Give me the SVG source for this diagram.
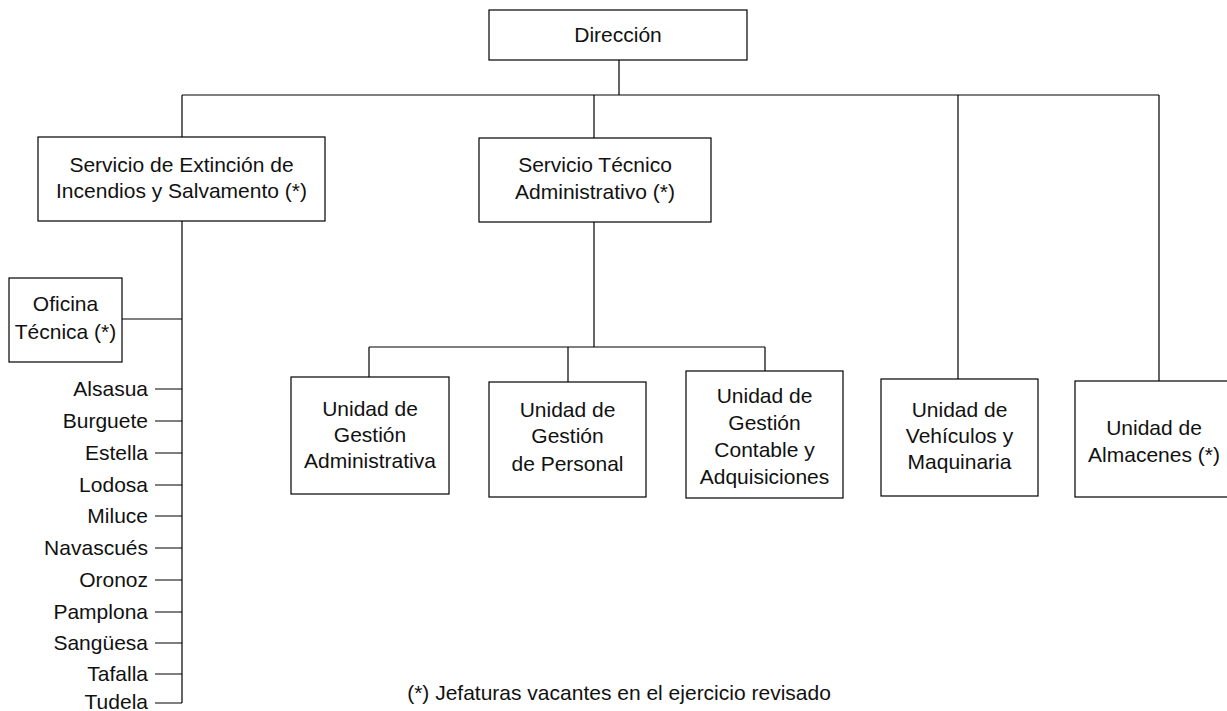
<svg xmlns="http://www.w3.org/2000/svg" width="1227" height="711" viewBox="0 0 1227 711">
<style>
.box{fill:#fff;stroke:#000;stroke-width:1.2}
.ln{stroke:#000;stroke-width:1.2;fill:none}
text{font-family:"Liberation Sans",Arial,sans-serif;font-size:21px;fill:#111}
.c{text-anchor:middle}
.r{text-anchor:end}
</style>
<rect width="1227" height="711" fill="#fff"/>
<g id="connectors">
<path class="ln" d="M619 60V95M182 95H1159M182 95V137M594 95V138M958 95V379M1159 95V381"/>
<path class="ln" d="M182 221V703M122 319H182"/>
<path class="ln" d="M155 389H182M155 421H182M155 453H182M155 485H182M155 516H182M155 548H182M155 580H182M155 612H182M155 643H182M155 674H182M155 703H182"/>
<path class="ln" d="M594 222V347M369 347H765M369 347V377M568 347V382M765 347V371"/>
</g>
<g id="direccion"><rect class="box" x="489" y="10" width="258" height="50"/><text class="c" x="618" y="42">Dirección</text></g>
<g id="seis"><rect class="box" x="38" y="137" width="287" height="84"/><text class="c" x="181.5" y="172">Servicio de Extinción de</text><text class="c" x="181.5" y="198">Incendios y Salvamento (*)</text></g>
<g id="sta"><rect class="box" x="479" y="138" width="232" height="84"/><text class="c" x="595" y="172">Servicio Técnico</text><text class="c" x="595" y="199">Administrativo (*)</text></g>
<g id="oficina"><rect class="box" x="9" y="278" width="113" height="84"/><text class="c" x="65.5" y="311">Oficina</text><text class="c" x="65.5" y="339">Técnica (*)</text></g>
<g id="parques">
<text class="r" x="148" y="396">Alsasua</text>
<text class="r" x="148" y="428">Burguete</text>
<text class="r" x="148" y="460">Estella</text>
<text class="r" x="148" y="492">Lodosa</text>
<text class="r" x="148" y="523">Miluce</text>
<text class="r" x="148" y="555">Navascués</text>
<text class="r" x="148" y="587">Oronoz</text>
<text class="r" x="148" y="619">Pamplona</text>
<text class="r" x="148" y="650">Sangüesa</text>
<text class="r" x="148" y="681">Tafalla</text>
<text class="r" x="148" y="709">Tudela</text>
</g>
<g id="ugadm"><rect class="box" x="291" y="377" width="158" height="117"/><text class="c" x="370" y="416">Unidad de</text><text class="c" x="370" y="442">Gestión</text><text class="c" x="370" y="468">Administrativa</text></g>
<g id="ugper"><rect class="box" x="489" y="382" width="157" height="115"/><text class="c" x="567.5" y="417">Unidad de</text><text class="c" x="567.5" y="443">Gestión</text><text class="c" x="567.5" y="471">de Personal</text></g>
<g id="ugcon"><rect class="box" x="686" y="371" width="157" height="127"/><text class="c" x="764.5" y="403">Unidad de</text><text class="c" x="764.5" y="430">Gestión</text><text class="c" x="764.5" y="457">Contable y</text><text class="c" x="764.5" y="484">Adquisiciones</text></g>
<g id="uveh"><rect class="box" x="881" y="379" width="157" height="117"/><text class="c" x="959.5" y="417">Unidad de</text><text class="c" x="959.5" y="443">Vehículos y</text><text class="c" x="959.5" y="469">Maquinaria</text></g>
<g id="ualm"><rect class="box" x="1075" y="381" width="160" height="116"/><text class="c" x="1154" y="435">Unidad de</text><text class="c" x="1154" y="462">Almacenes (*)</text></g>
<text id="nota" class="c" x="619" y="700">(*) Jefaturas vacantes en el ejercicio revisado</text>
</svg>
